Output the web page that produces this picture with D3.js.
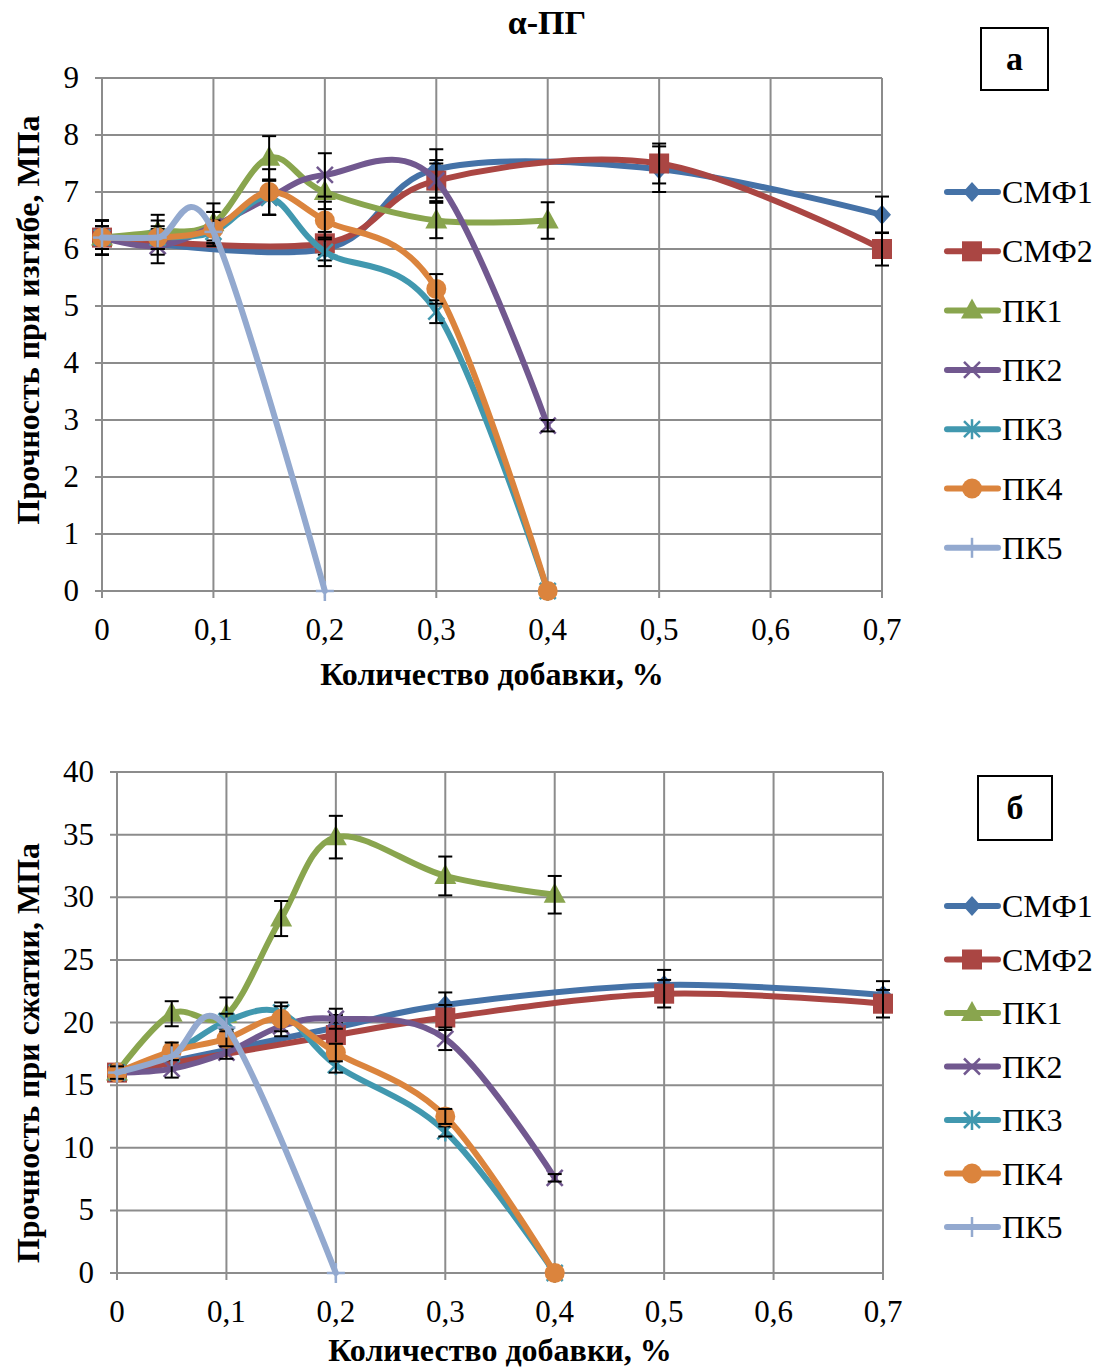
<!DOCTYPE html>
<html>
<head>
<meta charset="utf-8">
<script src="https://cdn.jsdelivr.net/npm/d3@7"></script>
<style>
  body { margin: 0; background: #fff; }
</style>
</head>
<body>
<div id="chart"></div>
<script>
// doses (x values, %) for each group of series
var xSMF = [0, 0.2, 0.3, 0.5, 0.7];
var xPK = [0, 0.05, 0.1, 0.15, 0.2, 0.3, 0.4];
var xPK5 = [0, 0.05, 0.1, 0.2];
var xTicks = [0, 0.1, 0.2, 0.3, 0.4, 0.5, 0.6, 0.7];

var seriesNames = ['СМФ1', 'СМФ2', 'ПК1', 'ПК2', 'ПК3', 'ПК4', 'ПК5'];
var seriesColors = ['#4572A7', '#AA4643', '#89A54E', '#71588F', '#4198AF', '#DB843D', '#93A9CF'];
var seriesMarkers = ['diamond', 'square', 'triangle', 'cross', 'star', 'circle', 'plus'];

// panel а: flexural strength, MPa
var bendSMF1 = [6.2, 6.0, 7.4, 7.4, 6.6];
var bendSMF2 = [6.2, 6.1, 7.2, 7.5, 6.0];
var bendPK1 = [6.2, 6.3, 6.45, 7.6, 7.0, 6.5, 6.5];
var bendPK2 = [6.2, 6.05, 6.4, 6.9, 7.3, 7.2, 2.9];
var bendPK3 = [6.2, 6.2, 6.3, 6.9, 5.95, 4.9, 0];
var bendPK4 = [6.2, 6.2, 6.35, 7.0, 6.5, 5.3, 0];
var bendPK5 = [6.2, 6.2, 6.3, 0];
var bendErr = [
    [0.3, 0.2, 0.35, 0.4, 0.32],
    [0.3, 0.2, 0.3, 0.35, 0.29],
    [0.3, 0.3, 0.35, 0.38, 0.3, 0.31, 0.32],
    [0.3, 0.3, 0.25, 0.3, 0.38, 0.36, 0.1],
    [0.2, 0.2, 0.2, 0.3, 0.25, 0.2, 0],
    [0.2, 0.3, 0.3, 0.4, 0.33, 0.26, 0],
    [0, 0, 0, 0]
];

// panel б: compressive strength, MPa
var compSMF1 = [16, 19.6, 21.4, 23.0, 22.2];
var compSMF2 = [16, 19.0, 20.4, 22.3, 21.5];
var compPK1 = [16, 20.7, 20.6, 28.3, 34.8, 31.7, 30.2];
var compPK2 = [16, 16.3, 17.6, 19.7, 20.3, 18.7, 7.6];
var compPK3 = [16, 17.5, 20.1, 20.8, 16.6, 11.3, 0];
var compPK4 = [16, 17.7, 18.7, 20.3, 17.6, 12.5, 0];
var compPK5 = [16, 17.3, 19.6, 0];
var compErr = [
    [0.6, 1.0, 1.0, 1.2, 1.1],
    [0.6, 1.0, 1.0, 1.1, 1.1],
    [0.6, 1.0, 1.4, 1.4, 1.7, 1.55, 1.5],
    [0.6, 0.7, 0.5, 0.8, 0.8, 0.9, 0.3],
    [0.5, 0.5, 0.6, 0.8, 0.6, 0.4, 0],
    [0.5, 0.7, 0.6, 1.0, 0.7, 0.6, 0],
    [0, 0, 0, 0]
];

var FONT = '"Liberation Serif", "Times New Roman", "DejaVu Serif", serif';

var svg = d3.select('#chart').append('svg')
    .attr('width', 1102)
    .attr('height', 1370)
    .attr('font-family', FONT);

svg.append('text')
    .attr('x', 547).attr('y', 34)
    .attr('text-anchor', 'middle')
    .attr('font-family', FONT)
    .attr('font-size', 34)
    .attr('font-weight', 'bold')
    .text('α-ПГ');

function buildSeries(vals, errs) {
    var xs = [xSMF, xSMF, xPK, xPK, xPK, xPK, xPK5];
    return vals.map(function (v, i) {
        return {
            name: seriesNames[i],
            color: seriesColors[i],
            marker: seriesMarkers[i],
            points: v.map(function (y, j) { return { x: xs[i][j], y: y, e: errs[i][j] }; })
        };
    });
}

function drawMarker(g, type, color) {
    if (type === 'diamond') {
        g.append('path').attr('d', 'M0,-10L9,0L0,10L-9,0Z').attr('fill', color);
    } else if (type === 'square') {
        g.append('rect').attr('x', -10).attr('y', -10).attr('width', 20).attr('height', 20).attr('fill', color);
    } else if (type === 'triangle') {
        g.append('path').attr('d', 'M0,-12L11,8L-11,8Z').attr('fill', color);
    } else if (type === 'circle') {
        g.append('circle').attr('r', 10).attr('fill', color);
    } else {
        var segs = [];
        if (type === 'cross' || type === 'star') segs.push([-8, -8, 8, 8], [-8, 8, 8, -8]);
        if (type === 'star' || type === 'plus') segs.push([0, -10, 0, 10]);
        if (type === 'plus') segs.push([-9, 0, 9, 0]);
        segs.forEach(function (s) {
            g.append('line')
                .attr('x1', s[0]).attr('y1', s[1]).attr('x2', s[2]).attr('y2', s[3])
                .attr('stroke', color).attr('stroke-width', 2.5);
        });
    }
}

function drawPanel(cfg) {
    var x = d3.scaleLinear().domain([0, 0.7]).range([cfg.left, cfg.right]);
    var y = d3.scaleLinear().domain([0, cfg.ymax]).range([cfg.bottom, cfg.top]);
    var g = svg.append('g');

    // grid
    var yTicks = d3.range(0, cfg.ymax + cfg.ystep / 2, cfg.ystep);
    g.selectAll('.hgrid').data(yTicks).enter().append('line')
        .attr('x1', cfg.left - 7).attr('x2', cfg.right)
        .attr('y1', function (d) { return y(d); }).attr('y2', function (d) { return y(d); })
        .attr('stroke', '#8c8c8c').attr('stroke-width', 2);
    g.selectAll('.vgrid').data(xTicks).enter().append('line')
        .attr('y1', cfg.bottom + 7).attr('y2', cfg.top)
        .attr('x1', function (d) { return x(d); }).attr('x2', function (d) { return x(d); })
        .attr('stroke', '#8c8c8c').attr('stroke-width', 2);

    // tick labels
    g.selectAll('.ylab').data(yTicks).enter().append('text')
        .attr('x', cfg.left - 23).attr('y', function (d) { return y(d) + 10; })
        .attr('text-anchor', 'end').attr('font-size', 31).attr('font-family', FONT)
        .text(function (d) { return d; });
    g.selectAll('.xlab').data(xTicks).enter().append('text')
        .attr('x', function (d) { return x(d); }).attr('y', cfg.bottom + 49)
        .attr('text-anchor', 'middle').attr('font-size', 31).attr('font-family', FONT)
        .text(function (d) { return String(d).replace('.', ','); });

    // axis titles
    g.append('text')
        .attr('x', cfg.xTitleX).attr('y', cfg.xTitleY)
        .attr('text-anchor', 'middle').attr('font-size', 32).attr('font-weight', 'bold')
        .attr('font-family', FONT)
        .text('Количество добавки, %');
    g.append('text')
        .attr('transform', 'translate(' + 39 + ',' + cfg.yTitleY + ') rotate(-90)')
        .attr('text-anchor', 'middle').attr('font-size', 32).attr('font-weight', 'bold')
        .attr('font-family', FONT)
        .text(cfg.yTitle);

    var line = d3.line()
        .x(function (d) { return x(d.x); })
        .y(function (d) { return y(d.y); })
        .curve(d3.curveCardinal.tension(0));

    cfg.series.forEach(function (s) {
        var sg = g.append('g');
        sg.append('path')
            .attr('d', line(s.points))
            .attr('fill', 'none')
            .attr('stroke', s.color)
            .attr('stroke-width', 6)
            .attr('stroke-linejoin', 'round')
            .attr('stroke-linecap', 'round');
        s.points.forEach(function (p) {
            var mg = sg.append('g').attr('transform', 'translate(' + x(p.x) + ',' + y(p.y) + ')');
            drawMarker(mg, s.marker, s.color);
        });
        // error bars
        s.points.filter(function (p) { return p.e > 0; }).forEach(function (p) {
            var px = x(p.x), y1 = y(p.y + p.e), y2 = y(p.y - p.e);
            var eg = sg.append('g').attr('stroke', '#000').attr('stroke-width', 2);
            eg.append('line').attr('x1', px).attr('x2', px).attr('y1', y1).attr('y2', y2);
            eg.append('line').attr('x1', px - 7).attr('x2', px + 7).attr('y1', y1).attr('y2', y1);
            eg.append('line').attr('x1', px - 7).attr('x2', px + 7).attr('y1', y2).attr('y2', y2);
        });
    });

    // legend
    var lg = g.append('g');
    cfg.series.forEach(function (s, i) {
        var ly = cfg.legendY + i * cfg.legendStep;
        lg.append('line')
            .attr('x1', 947).attr('x2', 998).attr('y1', ly).attr('y2', ly)
            .attr('stroke', s.color).attr('stroke-width', 6).attr('stroke-linecap', 'round');
        drawMarker(lg.append('g').attr('transform', 'translate(972,' + ly + ')'), s.marker, s.color);
        lg.append('text')
            .attr('x', 1002).attr('y', ly + 11)
            .attr('font-size', 32).attr('font-family', FONT)
            .text(s.name);
    });

    // panel letter box
    g.append('rect')
        .attr('x', cfg.box[0]).attr('y', cfg.box[1])
        .attr('width', cfg.box[2]).attr('height', cfg.box[3])
        .attr('fill', '#fff').attr('stroke', '#000').attr('stroke-width', 2);
    g.append('text')
        .attr('x', cfg.box[0] + cfg.box[2] / 2).attr('y', cfg.box[1] + cfg.box[3] / 2 + 11)
        .attr('text-anchor', 'middle').attr('font-size', 34).attr('font-weight', 'bold')
        .attr('font-family', FONT)
        .text(cfg.letter);
}

drawPanel({
    left: 102, right: 882, top: 78, bottom: 591,
    ymax: 9, ystep: 1,
    yTitle: 'Прочность при изгибе, МПа', yTitleY: 320,
    xTitleX: 492, xTitleY: 685,
    series: buildSeries([bendSMF1, bendSMF2, bendPK1, bendPK2, bendPK3, bendPK4, bendPK5], bendErr),
    legendY: 192, legendStep: 59.3,
    box: [981, 28, 67, 62], letter: 'а'
});

drawPanel({
    left: 117, right: 883, top: 772, bottom: 1273,
    ymax: 40, ystep: 5,
    yTitle: 'Прочность при сжатии, МПа', yTitleY: 1053,
    xTitleX: 500, xTitleY: 1361,
    series: buildSeries([compSMF1, compSMF2, compPK1, compPK2, compPK3, compPK4, compPK5], compErr),
    legendY: 906, legendStep: 53.5,
    box: [978, 776, 74, 64], letter: 'б'
});
</script>
</body>
</html>
